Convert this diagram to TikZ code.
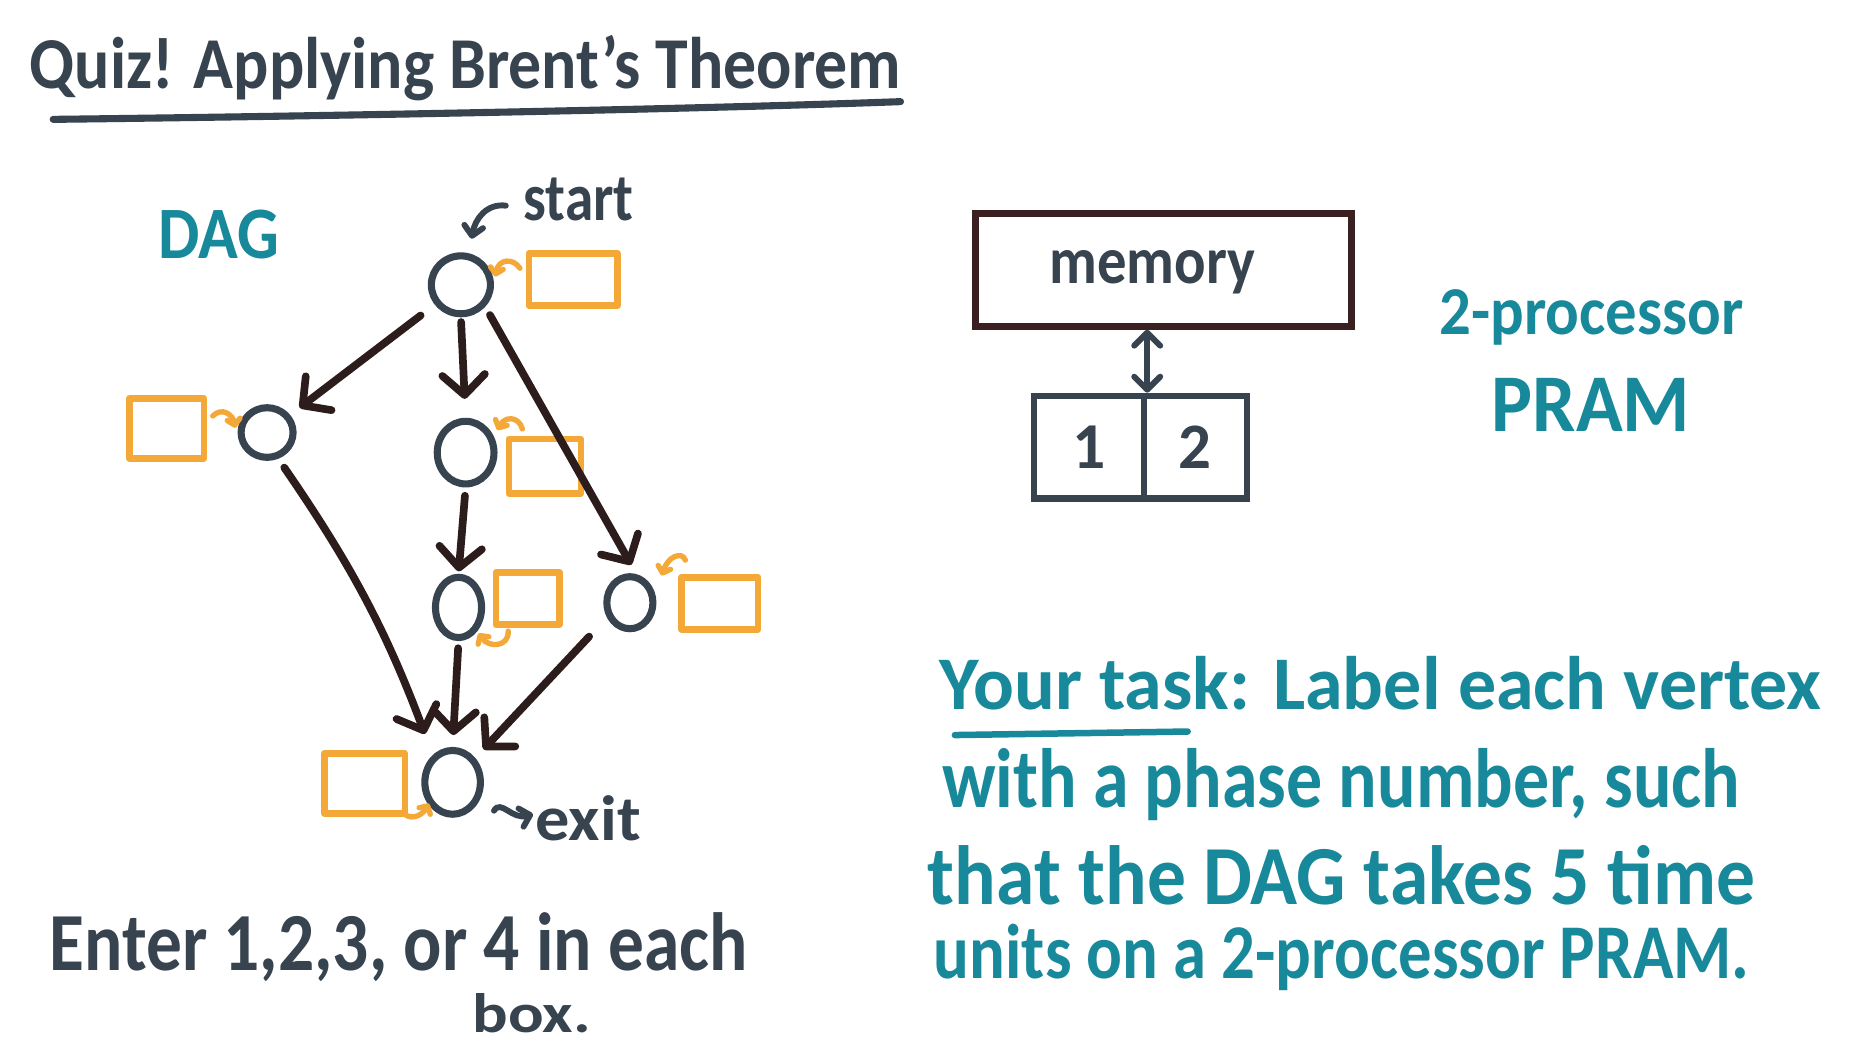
\documentclass[tikz,border=0pt]{standalone}
\usepackage{fontspec}
\setmainfont{Carlito}
\usetikzlibrary{arrows.meta,shapes.geometric}
\definecolor{ink}{HTML}{37434E}
\definecolor{tealink}{HTML}{18899A}
\definecolor{orng}{HTML}{F4A838}
\definecolor{brn}{HTML}{2D1C1C}
\definecolor{memc}{HTML}{3A2020}
\newcommand{\fitbox}[3]{\resizebox{#1pt}{#2pt}{\bfseries #3}}
\begin{document}
\begin{tikzpicture}[x=1pt,y=-1pt,
  vtx/.style={ellipse, draw=ink, line width=6pt, inner sep=0pt},
  ansbox/.style={rectangle, draw=orng, line width=5.5pt, inner sep=0pt, line join=round},
  edge/.style={draw=brn, line width=6.5pt, line cap=round, -{Straight Barb[length=17pt,width=36pt,round]}},
  hook/.style={draw=orng, line width=4.5pt, line cap=round, -{Straight Barb[length=5pt,width=11pt,round]}},
  pointer/.style={draw=ink, line width=5pt, line cap=round, -{Straight Barb[length=8pt,width=16pt,round]}},
  txt/.style={inner sep=0pt, anchor=base west},
  cell/.style={rectangle, draw=ink, line width=5.5pt, inner sep=0pt, text=ink},
]
\useasboundingbox[fill=white] (0,0) rectangle (1568,884);

% title
\node[txt, text=ink] (title) at (25,75) {\fitbox{737}{45}{Quiz! Applying Brent's Theorem}};
\draw[ink, line width=6pt, line cap=round] (45,101) .. controls (300,98) and (600,92) .. (762,86);

% DAG
\node[txt, text=tealink] (dag) at (134,219) {\fitbox{102}{41}{DAG}};

\node[vtx, minimum width=50pt, minimum height=49pt] (s) at (390,241) {};
\node[vtx, minimum width=44pt, minimum height=42pt] (l) at (226,366) {};
\node[vtx, minimum width=48pt, minimum height=53pt] (m1) at (394,383) {};
\node[vtx, minimum width=39pt, minimum height=51pt] (m2) at (388,514) {};
\node[vtx, minimum width=39pt, minimum height=44pt] (r) at (533,510) {};
\node[vtx, minimum width=47pt, minimum height=54pt] (e) at (383,662) {};

\node[ansbox, minimum width=75pt, minimum height=44pt] (bs) at (485,236.5) {};
\node[ansbox, minimum width=63pt, minimum height=51pt] (bl) at (141,362.5) {};
\node[ansbox, minimum width=61pt, minimum height=46pt] (bm1) at (461,394.5) {};
\node[ansbox, minimum width=54pt, minimum height=44pt] (bm2) at (446.5,506.5) {};
\node[ansbox, minimum width=65pt, minimum height=44pt] (br) at (609,510.5) {};
\node[ansbox, minimum width=68pt, minimum height=51pt] (be) at (308.5,663) {};

\draw[edge, shorten <=15pt, shorten >=10pt] (s) -- (l);
\draw[edge, shorten <=4pt, shorten >=16pt] (s.south) -- (m1.north);
\draw[edge, shorten <=8pt, shorten >=9pt] (s.-42) -- (r.77);
\draw[edge, shorten <=7pt, shorten >=2pt] (m1.south) -- (m2.north);
\draw[edge, shorten <=9pt, shorten >=19pt] (l.-67) to[bend left=7] (e.126);
\draw[edge, shorten <=6pt, shorten >=10pt] (m2.south) -- (e.north);
\draw[edge, shorten <=22pt, shorten >=10pt] (r.213) -- (e.47);

% small orange pointers
\draw[hook] (440,227) .. controls (434,218) and (422,219) .. (419,234);
\draw[hook] (180,352) .. controls (188,344) and (197,351) .. (199,362);
\draw[hook] (442,363) .. controls (439,352) and (427,352) .. (421,364);
\draw[hook] (430,534) .. controls (431,547) and (414,549) .. (405,536);
\draw[hook] (580,474) .. controls (577,466) and (565,471) .. (560,487);
\draw[hook] (341,687) .. controls (345,694) and (356,692) .. (363,680);

% start / exit labels
\node[txt, text=ink] (starttxt) at (443,187) {\fitbox{93}{36}{start}};
\draw[pointer] (428,174) .. controls (412,172) and (402,185) .. (399,202);
\node[txt, text=ink] (exittxt) at (453,711) {\fitbox{89}{38}{exit}};
\draw[pointer] (418,686) .. controls (424,676) and (433,694) .. (451,689);

% memory and processors
\node[rectangle, draw=memc, line width=6pt, minimum width=318pt, minimum height=95pt] (mem) at (984.5,228.5) {};
\node[txt, text=ink] (memtxt) at (888,240) {\fitbox{174}{28}{memory}};
\node[cell, minimum width=93pt, minimum height=87pt] (p1) at (921.5,378.5) {\resizebox{!}{36pt}{\bfseries 1}};
\node[cell, minimum width=87pt, minimum height=87pt] (p2) at (1011.5,378.5) {\resizebox{!}{36pt}{\bfseries 2}};
\draw[draw=ink, line width=5pt, line cap=round, {Straight Barb[length=11pt,width=22pt,round]}-{Straight Barb[length=11pt,width=22pt,round]}] (mem.south -| p1.north east) -- (p1.north east);

\node[txt, text=tealink] (proc) at (1218,283) {\fitbox{257}{38}{2-processor}};
\node[txt, text=tealink] (pram) at (1262,365) {\fitbox{168}{45}{PRAM}};

% task text
\node[txt, text=tealink] (t1) at (795,600) {\fitbox{746}{45}{Your task: Label each vertex}};
\draw[tealink, line width=5.5pt, line cap=round] (808,622) -- (1005,619);
\node[txt, text=tealink] (t2) at (797,683) {\fitbox{675}{50}{with a phase number, such}};
\node[txt, text=tealink] (t3) at (785,765) {\fitbox{700}{50}{that the DAG takes 5 time}};
\node[txt, text=tealink] (t4) at (790,828) {\fitbox{690}{46}{units on a 2-processor PRAM.}};

% instructions
\node[txt, text=ink] (enter) at (42,821) {\fitbox{590}{49}{Enter 1,2,3, or 4 in each}};
\node[txt, text=ink] (boxtxt) at (400,874) {\fitbox{100}{33}{box.}};
\end{tikzpicture}
\end{document}
